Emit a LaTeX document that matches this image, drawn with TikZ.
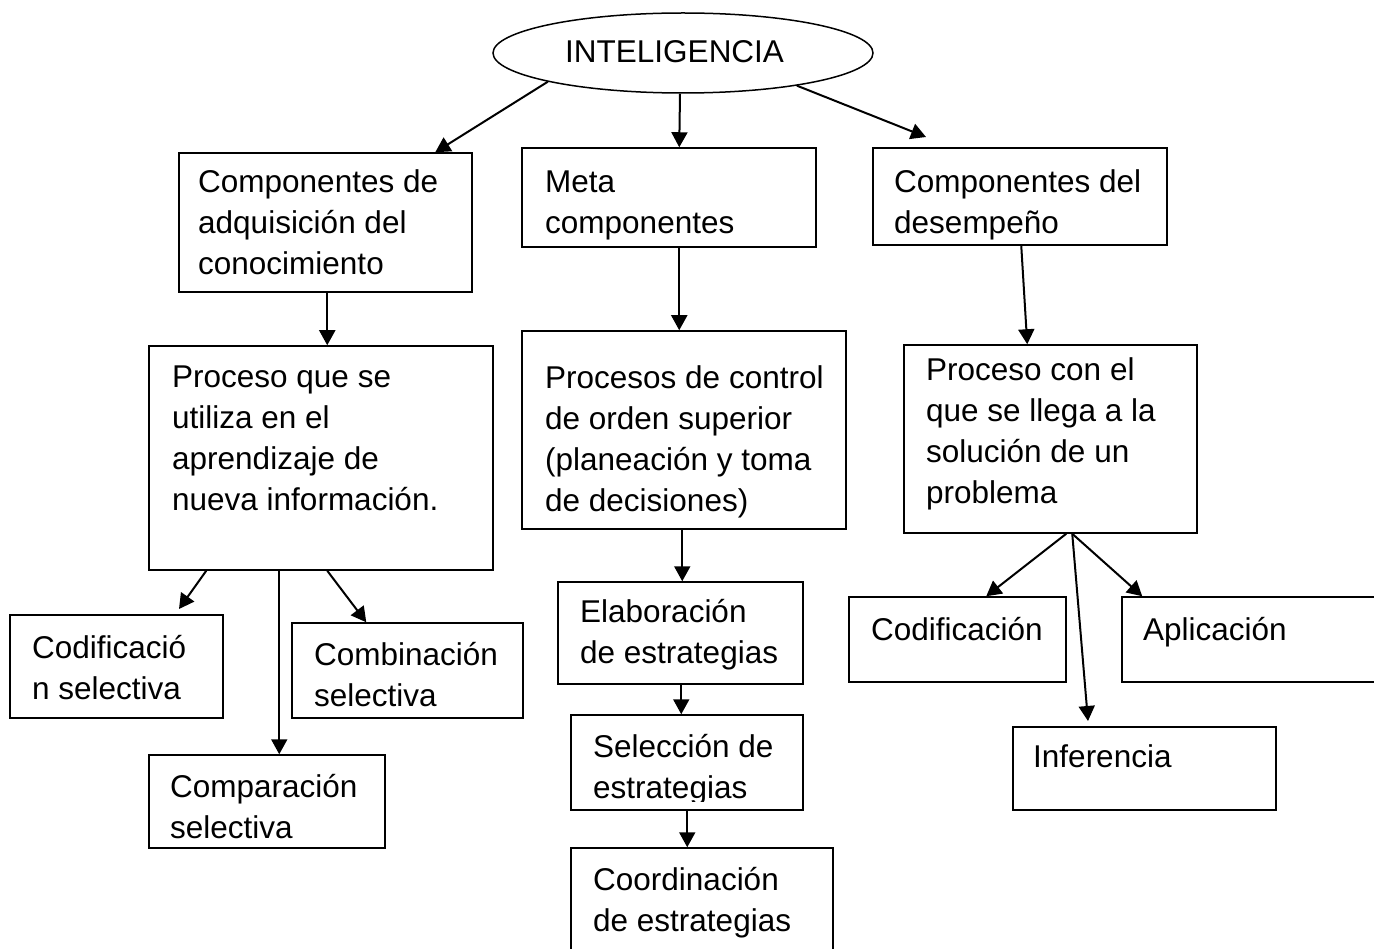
\documentclass[tikz,border=0pt]{standalone}
\usepackage{fontspec}
\setmainfont{Liberation Sans}
\usetikzlibrary{shapes.geometric,arrows.meta,fit}
\begin{document}
\begin{tikzpicture}[x=1pt,y=-1pt,
  box/.style={draw, line width=1.5pt, inner sep=0pt, fit={#1}},
  txt/.style={font=\fontsize{31.5}{41}\selectfont, align=left, inner sep=0pt, anchor=north west, yshift=28.7pt},
  arr/.style={line width=2pt, -{Triangle[width=16pt,length=15pt]}}]
\useasboundingbox[fill=white] (0,0) rectangle (1374,949);
\clip (0,0) rectangle (1374,949);
% ellipse
\node[draw, ellipse, line width=1.5pt, minimum width=380pt, minimum height=80pt, inner sep=0pt] (el) at (683,53) {};
\node[txt] (t0) at (565,62) {\strut INTELIGENCIA};
% boxes
\node[box={(179,153)(472,292)}] (b1) {};
\node[box={(522,148)(816,247)}] (b2) {};
\node[box={(873,148)(1167,245)}] (b3) {};
\node[box={(149,346)(493,570)}] (b4) {};
\node[box={(522,331)(846,529)}] (b5) {};
\node[box={(904,345)(1197,533)}] (b6) {};
\node[box={(10,615)(223,718)}] (b7) {};
\node[box={(292,623)(523,718)}] (b8) {};
\node[box={(149,755)(385,848)}] (b9) {};
\node[box={(558,582)(803,684)}] (b10) {};
\node[box={(571,715)(803,810)}] (b11) {};
\node[box={(571,848)(833,970)}] (b12) {};
\node[box={(849,597)(1066,682)}] (b13) {};
\node[box={(1122,597)(1400,682)}] (b14) {};
\node[box={(1013,727)(1276,810)}] (b15) {};
% texts
\node[txt] (t1) at (198,192) {\strut Componentes de\\adquisición del\\conocimiento};
\node[txt] (t2) at (545,192) {\strut Meta\\componentes};
\node[txt] (t3) at (894,192) {\strut Componentes del\\desempeño};
\node[txt] (t4) at (172,387) {\strut Proceso que se\\utiliza en el\\aprendizaje de\\nueva información.};
\node[txt] (t5) at (545,388) {\strut Procesos de control\\de orden superior\\(planeación y toma\\de decisiones)};
\node[txt] (t6) at (926,380) {\strut Proceso con el\\que se llega a la\\solución de un\\problema};
\node[txt] (t7) at (32,658) {\strut Codificació\\n selectiva};
\node[txt] (t8) at (314,665) {\strut Combinación\\selectiva};
\node[txt] (t9) at (170,797) {\strut Comparación\\selectiva};
\node[txt] (t10) at (580,622) {\strut Elaboración\\de estrategias};
\begin{scope}
\clip (571,715) rectangle (803,801);
\node[txt] (t11) at (593,757) {\strut Selección de\\estrategias};
\end{scope}
\node[txt] (t12) at (593,890) {\strut Coordinación\\de estrategias};
\node[txt] (t13) at (871,640) {\strut Codificación};
\node[txt] (t14) at (1143,640) {\strut Aplicación};
\node[txt] (t15) at (1033,767) {\strut Inferencia};
% free arrow ends
\coordinate (c3) at (926,137);
\coordinate (c7) at (179,609);
\coordinate (c14) at (1088,721);
% arrows
\draw[arr] (el.192) -- ([xshift=257pt]b1.north west);
\draw[arr] ([xshift=-3pt]el.south) -- ([xshift=158pt]b2.north west);
\draw[arr] (el.-16) -- (c3);
\draw[arr] ([xshift=149pt]b1.south west) -- ([xshift=179pt]b4.north west);
\draw[arr] ([xshift=158pt]b2.south west) -- ([xshift=158pt]b5.north west);
\draw[arr] ([xshift=149pt]b3.south west) -- ([xshift=124pt]b6.north west);
\draw[arr] ([xshift=58pt]b4.south west) -- (c7);
\draw[arr] ([xshift=131pt]b4.south west) -- ([xshift=131pt]b9.north west);
\draw[arr] ([xshift=179pt]b4.south west) -- ([xshift=75pt]b8.north west);
\draw[arr] ([xshift=161pt]b5.south west) -- ([xshift=125pt]b10.north west);
\draw[arr] ([xshift=124pt]b10.south west) -- ([xshift=111pt]b11.north west);
\draw[arr] ([xshift=117pt]b11.south west) -- ([xshift=117pt]b12.north west);
\draw[arr] ([xshift=163pt]b6.south west) -- ([xshift=138pt]b13.north west);
\draw[arr] ([xshift=169pt]b6.south west) -- (c14);
\draw[arr] ([xshift=169pt]b6.south west) -- ([xshift=21pt]b14.north west);
\end{tikzpicture}
\end{document}
